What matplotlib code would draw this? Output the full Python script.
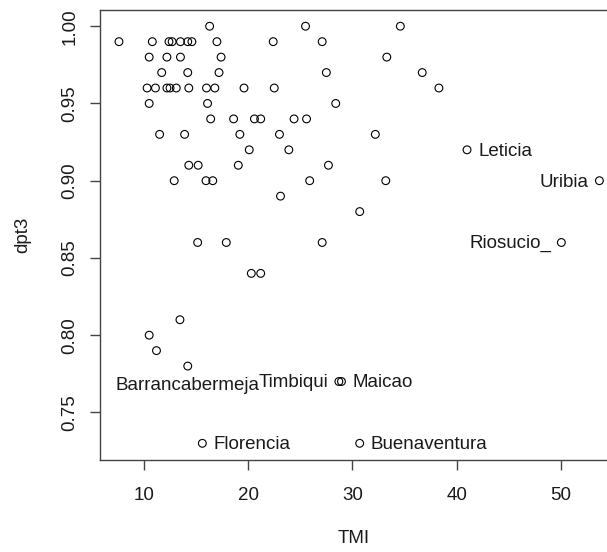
import matplotlib
matplotlib.use("Agg")
import matplotlib.pyplot as plt

plt.rcParams['font.family'] = ['Liberation Sans', 'DejaVu Sans']

# Data: TMI (x) and dpt3 (y)
tmi = [16.3, 25.5, 34.6,
       7.6, 10.8, 12.4, 12.7, 13.5, 14.2, 14.6, 17.0, 22.4, 27.1,
       10.5, 12.2, 13.5, 17.4, 33.3,
       11.7, 14.2, 17.2, 27.5, 36.7,
       10.3, 11.1, 12.2, 12.5, 13.1, 14.3, 16.0, 16.8, 19.6, 22.5, 38.3,
       10.5, 16.1, 28.4,
       16.4, 18.6, 20.6, 21.2, 24.4, 25.6,
       11.5, 13.9, 19.2, 23.0, 32.2,
       20.1, 23.9, 41.0,
       14.3, 15.2, 19.05, 27.7,
       12.9, 15.95, 16.6, 25.9, 33.2, 53.7,
       23.1,
       30.7,
       15.15, 17.9, 27.1, 50.05,
       20.3, 21.2,
       13.45, 10.5, 11.2, 14.2,
       28.7, 28.95,
       15.6, 30.7]
dpt3 = [1.00, 1.00, 1.00,
        0.99, 0.99, 0.99, 0.99, 0.99, 0.99, 0.99, 0.99, 0.99, 0.99,
        0.98, 0.98, 0.98, 0.98, 0.98,
        0.97, 0.97, 0.97, 0.97, 0.97,
        0.96, 0.96, 0.96, 0.96, 0.96, 0.96, 0.96, 0.96, 0.96, 0.96, 0.96,
        0.95, 0.95, 0.95,
        0.94, 0.94, 0.94, 0.94, 0.94, 0.94,
        0.93, 0.93, 0.93, 0.93, 0.93,
        0.92, 0.92, 0.92,
        0.91, 0.91, 0.91, 0.91,
        0.90, 0.90, 0.90, 0.90, 0.90, 0.90,
        0.89,
        0.88,
        0.86, 0.86, 0.86, 0.86,
        0.84, 0.84,
        0.81, 0.80, 0.79, 0.78,
        0.77, 0.77,
        0.73, 0.73]

# Labelled municipalities
label_names = ["Leticia", "Uribia", "Riosucio_", "Barrancabermeja",
               "Timbiqui", "Maicao", "Florencia", "Buenaventura"]
label_x = [41.0, 53.7, 50.05, 14.2, 28.7, 28.95, 15.6, 30.7]
label_y = [0.92, 0.90, 0.86, 0.78, 0.77, 0.77, 0.73, 0.73]
label_pos = ["right", "left", "left", "below", "left", "right", "right", "right"]

x_ticks = [10, 20, 30, 40, 50]
y_ticks = [0.75, 0.80, 0.85, 0.90, 0.95, 1.00]

fig = plt.figure(figsize=(6.07, 5.52), dpi=100)
ax = fig.add_axes([100/607, 1 - 460/552, 1 - 100/607, 450/552])

ax.scatter(tmi, dpt3, s=5.6**2, facecolors='none', edgecolors='black', linewidths=0.8, zorder=3)

txtc = '#1a1a1a'
fs = 13.5
for name, x, y, pos in zip(label_names, label_x, label_y, label_pos):
    if pos == "right":
        ax.annotate(name, (x, y), xytext=(8, -1), textcoords='offset points',
                    ha='left', va='center', fontsize=fs, color=txtc)
    elif pos == "left":
        ax.annotate(name, (x, y), xytext=(-7.5, -1), textcoords='offset points',
                    ha='right', va='center', fontsize=fs, color=txtc)
    else:
        ax.annotate(name, (x, y), xytext=(0, -8), textcoords='offset points',
                    ha='center', va='top', fontsize=fs, color=txtc)

ax.set_xlim(5.78, 54.43)
ax.set_ylim(0.7192, 1.0105)
ax.set_xticks(x_ticks)
ax.set_xticklabels([str(t) for t in x_ticks])
ax.set_yticks(y_ticks)
ax.set_yticklabels([f"{t:.2f}" for t in y_ticks], rotation=90, va='center')

for s in ax.spines.values():
    s.set_color('#444444')
    s.set_linewidth(1.0)
ax.spines['right'].set_visible(False)

ax.tick_params(axis='both', direction='out', length=7.5, width=1.0, color='#444444',
               labelsize=fs, labelcolor=txtc)
ax.tick_params(axis='x', pad=12)
ax.tick_params(axis='y', pad=8)

ax.set_xlabel("TMI", fontsize=fs, color=txtc, labelpad=19)
ax.set_ylabel("dpt3", fontsize=fs, color=txtc, labelpad=22)

fig.savefig("out.png", dpi=100)
